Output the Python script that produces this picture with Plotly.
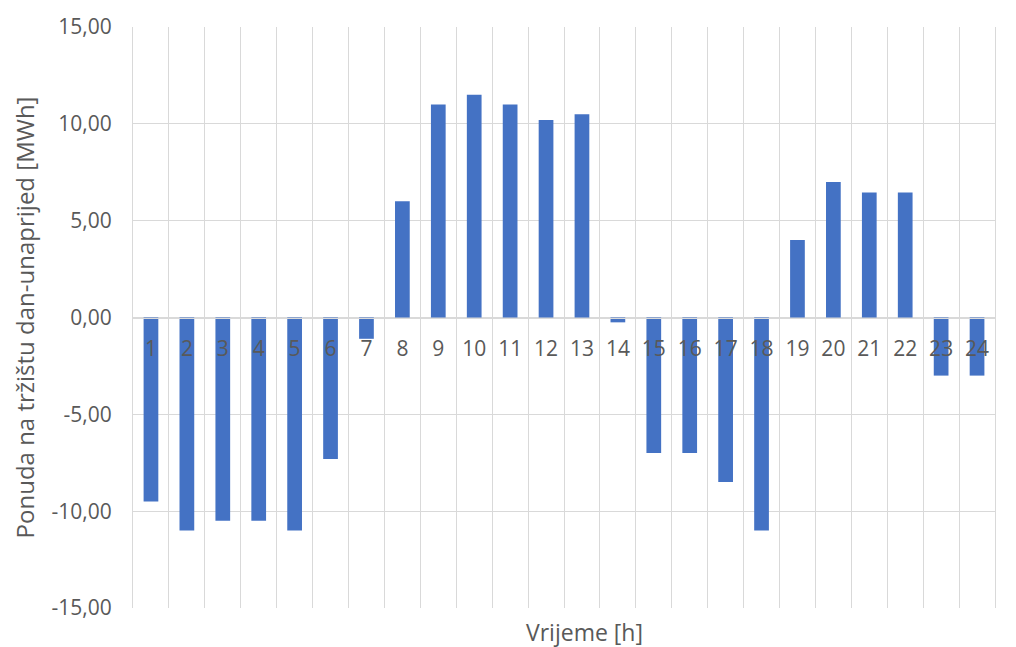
import plotly.graph_objects as go

hours = list(range(1, 25))
hour_labels = [str(h) for h in hours]
offer = [-9.5, -11.0, -10.5, -10.5, -11.0, -7.3, -1.1, 6.0, 11.0, 11.5, 11.0, 10.2,
         10.5, -0.25, -7.0, -7.0, -8.5, -11.0, 4.0, 7.0, 6.45, 6.45, -3.0, -3.0]
y_ticks = [-15, -10, -5, 0, 5, 10, 15]
y_tick_labels = ["-15,00", "-10,00", "-5,00", "0,00", "5,00", "10,00", "15,00"]

FONT = "Open Sans"
TXT = "#595959"
GRID = "#D9D9D9"

fig = go.Figure()
fig.add_trace(go.Bar(x=hours, y=offer, marker=dict(color="#4472C4", line=dict(width=0)),
                     showlegend=False))

fig.update_layout(
    width=1016, height=647,
    margin=dict(l=125, r=29, t=19, b=47, autoexpand=False),
    paper_bgcolor="white", plot_bgcolor="white",
    bargap=0.59,
    font=dict(family=FONT, color=TXT, size=21),
    xaxis=dict(
        range=[0.5, 24.5], automargin=False,
        tickvals=hours, ticktext=hour_labels,
        anchor="free", position=0.5,
        showline=True, linecolor=GRID, linewidth=1,
        showgrid=False, zeroline=False,
        ticks="", ticklabelstandoff=12,
        tickfont=dict(size=21, color=TXT),
        minor=dict(tickvals=[h - 0.5 for h in hours] + [24.5], showgrid=True,
                   gridcolor=GRID, gridwidth=1, ticks=""),
    ),
    yaxis=dict(
        range=[-15, 15], automargin=False,
        tickvals=y_ticks, ticktext=y_tick_labels,
        showgrid=True, gridcolor=GRID, gridwidth=1,
        zeroline=False, showline=True, linecolor=GRID, mirror=True,
        ticks="", ticklabelstandoff=16,
        tickfont=dict(size=21, color=TXT),
        title=dict(text="Ponuda na tržištu dan-unaprijed [MWh]",
                   font=dict(size=24, color=TXT), standoff=14),
    ),
    annotations=[dict(text="Vrijeme [h]", x=0.524, y=0, xref="paper", yref="paper",
                      xanchor="center", yanchor="middle", yshift=-24, showarrow=False,
                      font=dict(size=23, color=TXT))],
)

fig.write_html("out.html")
